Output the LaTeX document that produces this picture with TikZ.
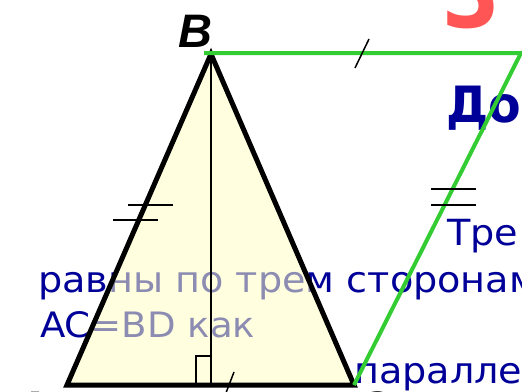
\documentclass[tikz,border=0pt]{standalone}
\usepackage{fontspec}
\newfontfamily\bodyfont[FakeStretch=1.06]{DejaVu Sans}
\newfontfamily\dokfont[FakeStretch=0.95]{DejaVu Sans}
\newfontfamily\titlefont[FakeStretch=0.8]{DejaVu Sans}
\newfontfamily\labelfont{Liberation Sans}
\definecolor{navy}{RGB}{0,0,153}
\definecolor{gline}{RGB}{51,204,51}
\definecolor{tfill}{RGB}{255,255,200}
\definecolor{tred}{RGB}{255,85,85}
\tikzset{
  body/.style={anchor=base west, inner sep=0pt, text=navy, font=\bodyfont\fontsize{36}{36}\selectfont},
  lbl/.style={anchor=base west, inner sep=0pt, font=\labelfont\bfseries\itshape\fontsize{47}{47}\selectfont},
  tri/.style={line width=5pt, line join=miter},
  grn/.style={draw=gline, line width=4pt, line join=miter},
  tick/.style={line width=1.5pt},
  thin/.style={line width=1.2pt}
}
\begin{document}
\begin{tikzpicture}[x=1pt,y=-1pt]
\useasboundingbox (0,0) rectangle (522,391);
\clip (0,0) rectangle (522,391);
\fill[white] (0,0) rectangle (522,391);
% text
\node[anchor=base west, inner sep=0pt, text=tred, font=\titlefont\bfseries\fontsize{100}{100}\selectfont] (title) at (442,27) {З};
\node[body, font=\dokfont\bfseries\fontsize{50}{50}\selectfont] (dok) at (446,122) {Док};
\node[body] (t1) at (447,245) {Тре};
\node[body] (t2) at (38,292) {равны по трем сторонам};
\node[body, font=\bodyfont\fontsize{35}{35}\selectfont] (t3) at (40,337) {AC=BD как};
\node[body] (t4) at (354,383) {паралле};
% triangle
\coordinate (A) at (67,385);
\coordinate (B) at (211,54);
\coordinate (C) at (354,385);
\coordinate (D) at (521,53);
\coordinate (G) at (204,53);
\coordinate (H) at (211,385);
\fill[tfill, opacity=0.55] (A) -- (B) -- (C) -- cycle;
\draw[tri] (A) -- (B) -- (C) -- cycle;
\draw[thin] (B) -- (H);
\draw[thin] (H) -- ++(-15,0) -- ++(0,-29) -- ++(15,0);
\draw[grn] (G) -- (D) -- (C);
% ticks
\coordinate (k1a) at (369,39); \coordinate (k1b) at (355,68);
\draw[tick] (k1a) -- (k1b);
\coordinate (k2a) at (234,372); \coordinate (k2b) at (224,398);
\draw[tick] (k2a) -- (k2b);
\coordinate (k3a) at (128,205); \coordinate (k3b) at (173,205);
\coordinate (k4a) at (113,220); \coordinate (k4b) at (158,220);
\draw[tick] (k3a) -- (k3b); \draw[tick] (k4a) -- (k4b);
\coordinate (k5a) at (431,189); \coordinate (k5b) at (476,189);
\coordinate (k6a) at (431,205); \coordinate (k6b) at (476,205);
\draw[tick] (k5a) -- (k5b); \draw[tick] (k6a) -- (k6b);
% labels
\node[lbl] (lB) at (178,47) {B};
\node[lbl] (lA) at (14,424) {A};
\node[lbl] (lC) at (356,424) {C};
\end{tikzpicture}
\end{document}
